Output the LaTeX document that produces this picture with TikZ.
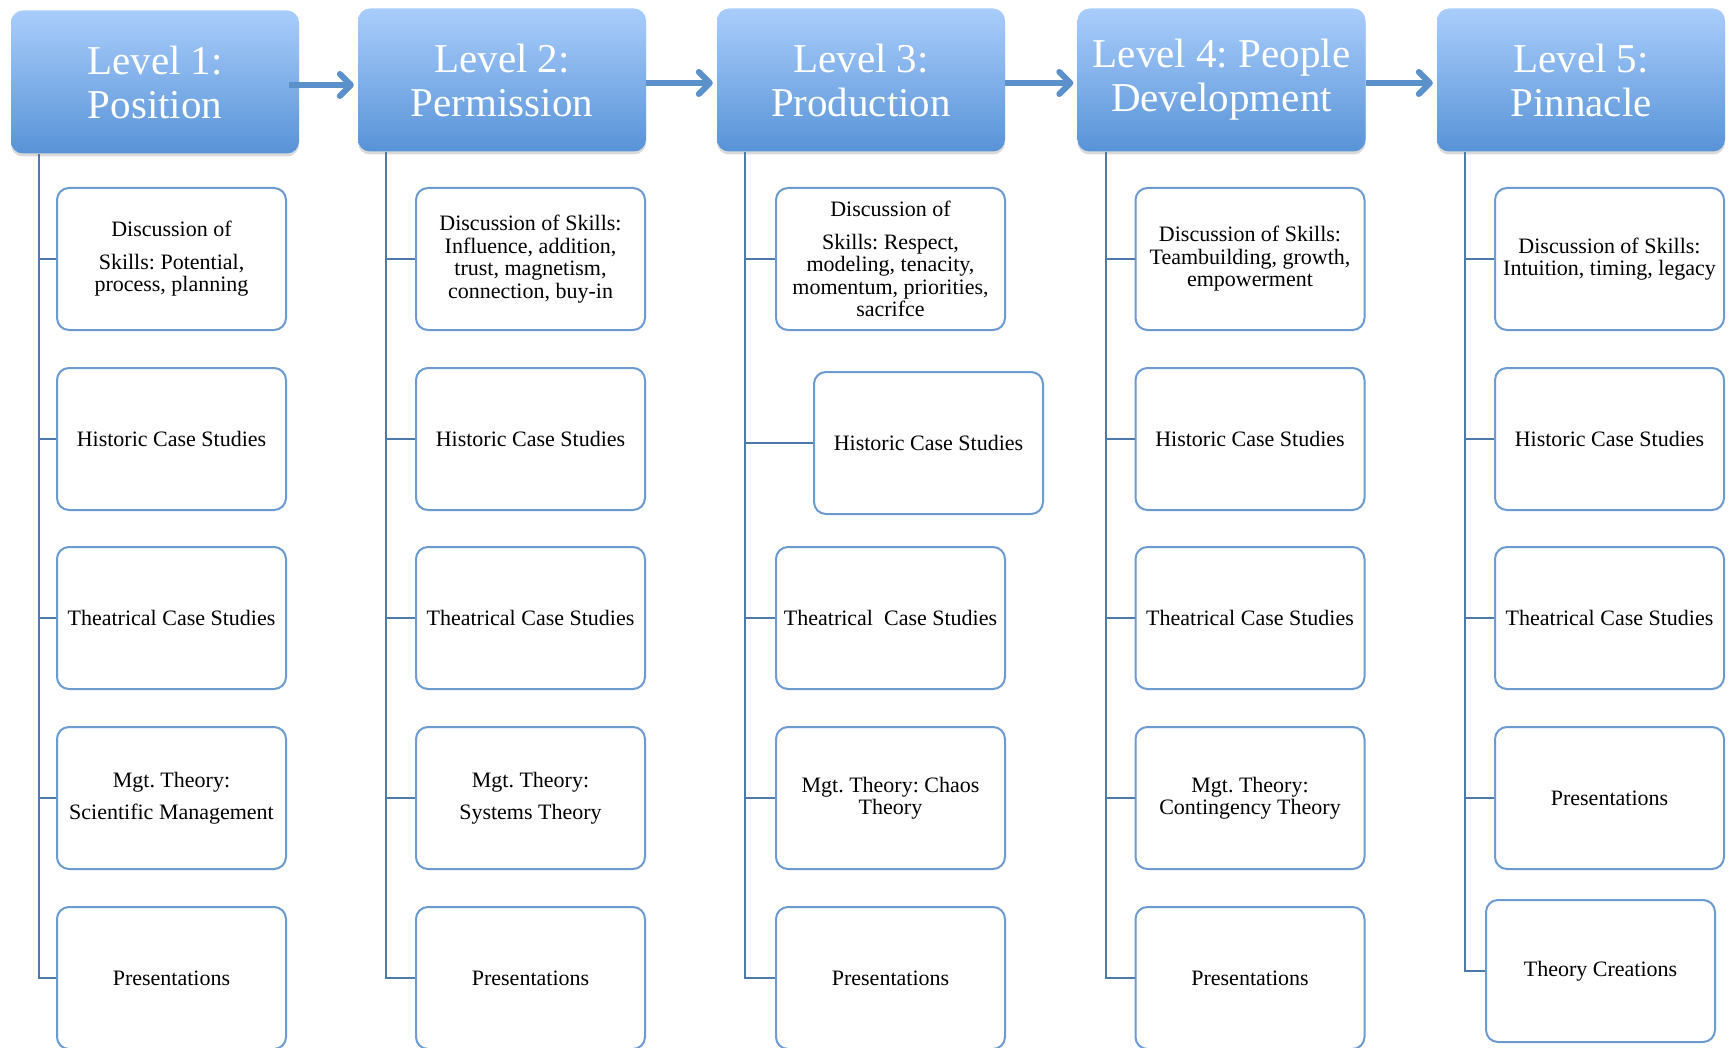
\documentclass[tikz,border=0pt]{standalone}
\usepackage{fontspec}
\setmainfont{Liberation Serif}
\usetikzlibrary{arrows.meta,shadows}
\definecolor{hdrtop}{HTML}{A9CDFB}
\definecolor{hdrbot}{HTML}{5893D7}
\definecolor{boxline}{HTML}{6B9BD1}
\definecolor{trunkc}{HTML}{4E79AD}
\definecolor{arrc}{HTML}{5B91CB}
\frenchspacing
\begin{document}
\begin{tikzpicture}[x=1pt,y=-1pt,
 hdr/.style={rectangle, rounded corners=12pt, top color=hdrtop, bottom color=hdrbot, draw=none,
   minimum width=288pt, minimum height=143pt, inner sep=2pt, text=white, align=center,
   font=\fontsize{41}{44}\selectfont,
   drop shadow={opacity=0.3, shadow xshift=0pt, shadow yshift=-3pt}},
 sub/.style={rectangle, rounded corners=12pt, draw=boxline, line width=2pt, fill=white,
   minimum width=229pt, minimum height=142pt, inner sep=2pt, align=center,
   font=\fontsize{22}{22.5}\selectfont},
 trunk/.style={draw=trunkc, line width=2.2pt},
 link/.style={draw=arrc, line width=6pt, -{Straight Barb[length=11pt,width=22pt,round]}}]
\useasboundingbox (0,0) rectangle (1728,1048);

% headers
\node[hdr] (h1) at (155,82) {Level 1:\\Position};
\node[hdr] (h2) at (502,80) {Level 2:\\Permission};
\node[hdr] (h3) at (861,80) {Level 3:\\Production};
\node[hdr] (h4) at (1221.5,80) {Level 4: People\\Development};
\node[hdr] (h5) at (1581,80) {Level 5:\\Pinnacle};

% arrows between headers
\draw[link] ([xshift=-10pt,yshift=-3pt]h1.east) -- ([xshift=-4pt,yshift=-3pt]h1.east -| h2.west);
\draw[link] ([yshift=-3pt]h2.east) -- ([xshift=-4pt,yshift=-3pt]h2.east -| h3.west);
\draw[link] ([yshift=-3pt]h3.east) -- ([xshift=-4pt,yshift=-3pt]h3.east -| h4.west);
\draw[link] ([yshift=-3pt]h4.east) -- ([xshift=-4pt,yshift=-3pt]h4.east -| h5.west);

% column 1
\node[sub] (c11) at (171.5,259) {Discussion of\\[10pt]Skills: Potential,\\process, planning};
\node[sub] (c12) at (171.5,439) {Historic Case Studies};
\node[sub] (c13) at (171.5,618) {Theatrical Case Studies};
\node[sub] (c14) at (171.5,798) {Mgt. Theory:\\[10pt]Scientific Management};
\node[sub] (c15) at (171.5,978) {Presentations};

% column 2
\node[sub] (c21) at (530.5,259) {Discussion of Skills:\\Influence, addition,\\trust, magnetism,\\connection, buy-in};
\node[sub] (c22) at (530.5,439) {Historic Case Studies};
\node[sub] (c23) at (530.5,618) {Theatrical Case Studies};
\node[sub] (c24) at (530.5,798) {Mgt. Theory:\\[10pt]Systems Theory};
\node[sub] (c25) at (530.5,978) {Presentations};

% column 3
\node[sub] (c31) at (890.5,259) {Discussion of\\[10pt]Skills: Respect,\\modeling, tenacity,\\momentum, priorities,\\sacrifce};
\node[sub] (c32) at (928.5,443) {Historic Case Studies};
\node[sub] (c33) at (890.5,618) {Theatrical~ Case Studies};
\node[sub] (c34) at (890.5,798) {Mgt. Theory: Chaos\\Theory};
\node[sub] (c35) at (890.5,978) {Presentations};

% column 4
\node[sub] (c41) at (1250,259) {Discussion of Skills:\\Teambuilding, growth,\\empowerment};
\node[sub] (c42) at (1250,439) {Historic Case Studies};
\node[sub] (c43) at (1250,618) {Theatrical Case Studies};
\node[sub] (c44) at (1250,798) {Mgt. Theory:\\Contingency Theory};
\node[sub] (c45) at (1250,978) {Presentations};

% column 5
\node[sub] (c51) at (1609.5,259) {Discussion of Skills:\\Intuition, timing, legacy};
\node[sub] (c52) at (1609.5,439) {Historic Case Studies};
\node[sub] (c53) at (1609.5,618) {Theatrical Case Studies};
\node[sub] (c54) at (1609.5,798) {Presentations};
\node[sub] (c55) at (1600.5,971) {Theory Creations};

% trunks
\foreach \i in {1,...,5} {
  \coordinate (t\i) at ([xshift=28.5pt]h\i.south west);
  \draw[trunk] (t\i) |- (c\i5.west);
  \foreach \j in {1,...,4} {
    \draw[trunk] (t\i |- c\i\j.west) -- (c\i\j.west);
  }
}
\end{tikzpicture}
\end{document}
